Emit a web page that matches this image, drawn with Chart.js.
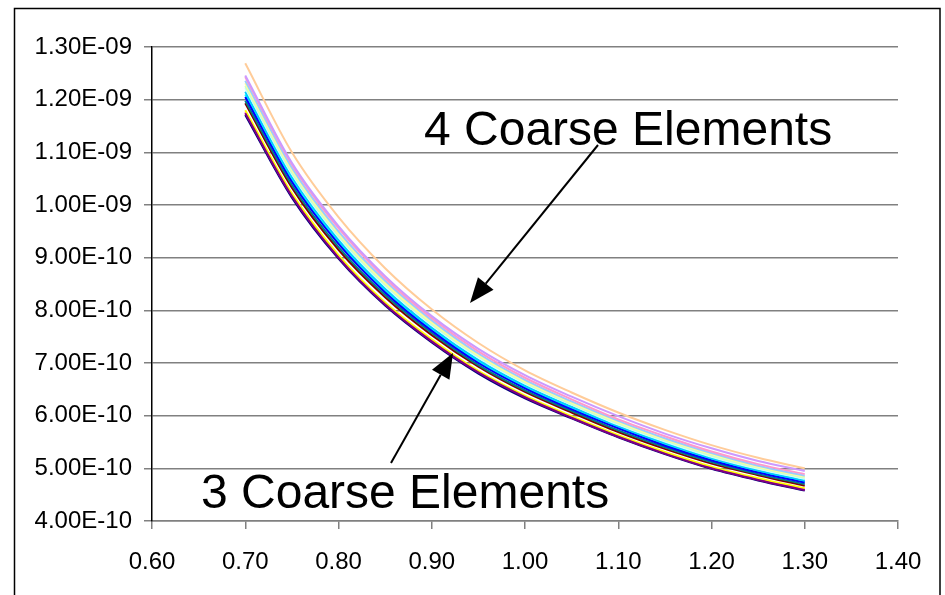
<!DOCTYPE html>
<html>
<head>
<meta charset="utf-8">
<script src="https://cdn.jsdelivr.net/npm/chart.js@4/dist/chart.umd.min.js"></script>
<style>
  html, body { margin: 0; padding: 0; background: #ffffff; }
  #wrap { position: relative; width: 945px; height: 595px; }
  canvas { display: block; }
</style>
</head>
<body>
<div id="wrap"><canvas id="c" width="945" height="595"></canvas></div>
<script>
// ---------------- data ----------------
const xValues = [0.70, 0.75, 0.80, 0.85, 0.90, 0.95, 1.00, 1.05, 1.10, 1.15, 1.20, 1.25, 1.30];

const sNavy      = [11.71e-10, 10.14e-10, 8.98e-10, 8.09e-10, 7.39e-10, 6.80e-10, 6.33e-10, 5.95e-10, 5.59e-10, 5.27e-10, 4.99e-10, 4.77e-10, 4.58e-10];
const sMagenta   = [11.76e-10, 10.18e-10, 9.02e-10, 8.13e-10, 7.42e-10, 6.83e-10, 6.36e-10, 5.97e-10, 5.61e-10, 5.29e-10, 5.01e-10, 4.79e-10, 4.60e-10];
const sYellow    = [11.80e-10, 10.22e-10, 9.05e-10, 8.15e-10, 7.45e-10, 6.85e-10, 6.38e-10, 5.99e-10, 5.63e-10, 5.31e-10, 5.03e-10, 4.81e-10, 4.62e-10];
const sCyan      = [12.10e-10, 10.48e-10, 9.30e-10, 8.37e-10, 7.64e-10, 7.03e-10, 6.54e-10, 6.15e-10, 5.78e-10, 5.45e-10, 5.17e-10, 4.94e-10, 4.75e-10];
const sPurple    = [11.74e-10, 10.17e-10, 9.00e-10, 8.11e-10, 7.41e-10, 6.82e-10, 6.35e-10, 5.96e-10, 5.60e-10, 5.28e-10, 5.00e-10, 4.78e-10, 4.59e-10];
const sMaroon    = [11.93e-10, 10.33e-10, 9.15e-10, 8.25e-10, 7.53e-10, 6.93e-10, 6.45e-10, 6.06e-10, 5.69e-10, 5.37e-10, 5.09e-10, 4.87e-10, 4.67e-10];
const sTeal      = [11.98e-10, 10.38e-10, 9.20e-10, 8.29e-10, 7.57e-10, 6.96e-10, 6.48e-10, 6.09e-10, 5.72e-10, 5.40e-10, 5.12e-10, 4.89e-10, 4.70e-10];
const sBlue      = [12.05e-10, 10.44e-10, 9.26e-10, 8.34e-10, 7.61e-10, 7.00e-10, 6.52e-10, 6.12e-10, 5.76e-10, 5.43e-10, 5.15e-10, 4.92e-10, 4.73e-10];
const sSkyBlue   = [12.15e-10, 10.53e-10, 9.34e-10, 8.41e-10, 7.67e-10, 7.06e-10, 6.57e-10, 6.17e-10, 5.80e-10, 5.48e-10, 5.19e-10, 4.96e-10, 4.77e-10];
const sTurquoise = [12.22e-10, 10.59e-10, 9.39e-10, 8.46e-10, 7.72e-10, 7.10e-10, 6.61e-10, 6.21e-10, 5.83e-10, 5.51e-10, 5.22e-10, 4.99e-10, 4.80e-10];
const sLtGreen   = [12.26e-10, 10.62e-10, 9.42e-10, 8.49e-10, 7.74e-10, 7.13e-10, 6.63e-10, 6.22e-10, 5.85e-10, 5.53e-10, 5.24e-10, 5.01e-10, 4.82e-10];
const sLtYellow  = [12.31e-10, 10.67e-10, 9.46e-10, 8.52e-10, 7.77e-10, 7.15e-10, 6.65e-10, 6.25e-10, 5.88e-10, 5.55e-10, 5.27e-10, 5.03e-10, 4.84e-10];
const sPaleBlue  = [12.36e-10, 10.71e-10, 9.50e-10, 8.56e-10, 7.81e-10, 7.18e-10, 6.68e-10, 6.27e-10, 5.90e-10, 5.57e-10, 5.29e-10, 5.05e-10, 4.86e-10];
const sRose      = [12.43e-10, 10.77e-10, 9.56e-10, 8.61e-10, 7.85e-10, 7.22e-10, 6.72e-10, 6.31e-10, 5.93e-10, 5.61e-10, 5.32e-10, 5.08e-10, 4.89e-10];
const sLavender  = [12.46e-10, 10.80e-10, 9.60e-10, 8.65e-10, 7.89e-10, 7.27e-10, 6.77e-10, 6.36e-10, 5.99e-10, 5.66e-10, 5.38e-10, 5.14e-10, 4.95e-10];
const sTan       = [12.69e-10, 11.00e-10, 9.77e-10, 8.80e-10, 8.02e-10, 7.38e-10, 6.86e-10, 6.44e-10, 6.06e-10, 5.73e-10, 5.44e-10, 5.20e-10, 5.00e-10];

const seriesList   = [sNavy, sMagenta, sYellow, sCyan, sPurple, sMaroon, sTeal, sBlue,
                      sSkyBlue, sTurquoise, sLtGreen, sLtYellow, sPaleBlue, sRose, sLavender, sTan];
const seriesColors = ['#000080', '#FF00FF', '#FFFF00', '#00FFFF', '#800080', '#800000', '#008080', '#0000FF',
                      '#00CCFF', '#CCFFFF', '#CCFFCC', '#FFFF99', '#99CCFF', '#FF99CC', '#CC99FF', '#FFCC99'];

const xTickLabels = ['0.60', '0.70', '0.80', '0.90', '1.00', '1.10', '1.20', '1.30', '1.40'];
const yTickLabels = ['4.00E-10', '5.00E-10', '6.00E-10', '7.00E-10', '8.00E-10', '9.00E-10',
                     '1.00E-09', '1.10E-09', '1.20E-09', '1.30E-09'];
const annotationTexts = ['4 Coarse Elements', '3 Coarse Elements'];

// ---------------- chart ----------------
const FONT = "'Liberation Sans', Arial, sans-serif";

const datasets = seriesList.map((arr, i) => ({
  label: 'Series' + (i + 1),
  data: xValues.map((x, j) => ({ x: x, y: arr[j] })),
  borderColor: seriesColors[i],
  backgroundColor: seriesColors[i],
  borderWidth: 2,
  pointRadius: 0,
  fill: false,
  cubicInterpolationMode: 'monotone',
  order: seriesList.length - i
}));

function arrow(ctx, x1, y1, x2, y2) {
  const ang = Math.atan2(y2 - y1, x2 - x1);
  const headLen = 25, headHalf = 10;
  const bx = x2 - headLen * Math.cos(ang), by = y2 - headLen * Math.sin(ang);
  ctx.beginPath();
  ctx.moveTo(x1, y1);
  ctx.lineTo(bx, by);
  ctx.stroke();
  ctx.beginPath();
  ctx.moveTo(x2, y2);
  ctx.lineTo(bx + headHalf * Math.sin(ang), by - headHalf * Math.cos(ang));
  ctx.lineTo(bx - headHalf * Math.sin(ang), by + headHalf * Math.cos(ang));
  ctx.closePath();
  ctx.fill();
}

const decorPlugin = {
  id: 'decor',
  beforeDraw(chart) {
    const ctx = chart.ctx;
    ctx.save();
    ctx.fillStyle = '#ffffff';
    ctx.fillRect(0, 0, chart.width, chart.height);
    ctx.strokeStyle = '#000000';
    ctx.lineWidth = 1.5;
    ctx.strokeRect(14.5, 8.5, 925.5, 620);
    ctx.restore();
  },
  afterDraw(chart) {
    const ctx = chart.ctx;
    ctx.save();
    ctx.fillStyle = '#000000';
    ctx.strokeStyle = '#000000';
    ctx.font = '48px ' + FONT;
    ctx.textBaseline = 'alphabetic';
    ctx.textAlign = 'left';
    ctx.fillText(annotationTexts[0], 424, 144.5);
    ctx.fillText(annotationTexts[1], 201, 508);
    ctx.lineWidth = 2;
    arrow(ctx, 598, 145, 470, 303);
    arrow(ctx, 391, 463, 453, 353);
    ctx.restore();
  }
};

new Chart(document.getElementById('c'), {
  type: 'line',
  data: { datasets: datasets },
  plugins: [decorPlugin],
  options: {
    responsive: false,
    animation: false,
    devicePixelRatio: 1,
    layout: { padding: { top: 47, right: 47, bottom: 0, left: 0 } },
    plugins: { legend: { display: false }, tooltip: { enabled: false } },
    scales: {
      x: {
        type: 'linear',
        min: 0.6,
        max: 1.4,
        afterFit(scale) { scale.height = 74; },
        afterBuildTicks(scale) {
          scale.ticks = xTickLabels.map(t => ({ value: parseFloat(t) }));
        },
        ticks: {
          callback: (v, i) => xTickLabels[i],
          font: { family: FONT, size: 24 },
          color: '#000000',
          padding: 19,
          maxRotation: 0,
          autoSkip: false
        },
        grid: {
          drawOnChartArea: false,
          drawTicks: true,
          tickLength: 8,
          color: '#808080',
          lineWidth: 1.5
        },
        border: { display: true, color: '#808080', width: 1.5 }
      },
      y: {
        type: 'linear',
        min: 4e-10,
        max: 1.3e-9,
        afterFit(scale) { scale.width = 152; },
        afterBuildTicks(scale) {
          scale.ticks = yTickLabels.map(t => ({ value: parseFloat(t) }));
        },
        ticks: {
          callback: (v, i) => yTickLabels[i],
          font: { family: FONT, size: 24 },
          color: '#000000',
          padding: 12,
          autoSkip: false
        },
        grid: {
          drawOnChartArea: true,
          drawTicks: true,
          tickLength: 8,
          color: '#808080',
          lineWidth: 1.5
        },
        border: { display: true, color: '#000000', width: 1.5 }
      }
    }
  }
});
</script>
</body>
</html>
